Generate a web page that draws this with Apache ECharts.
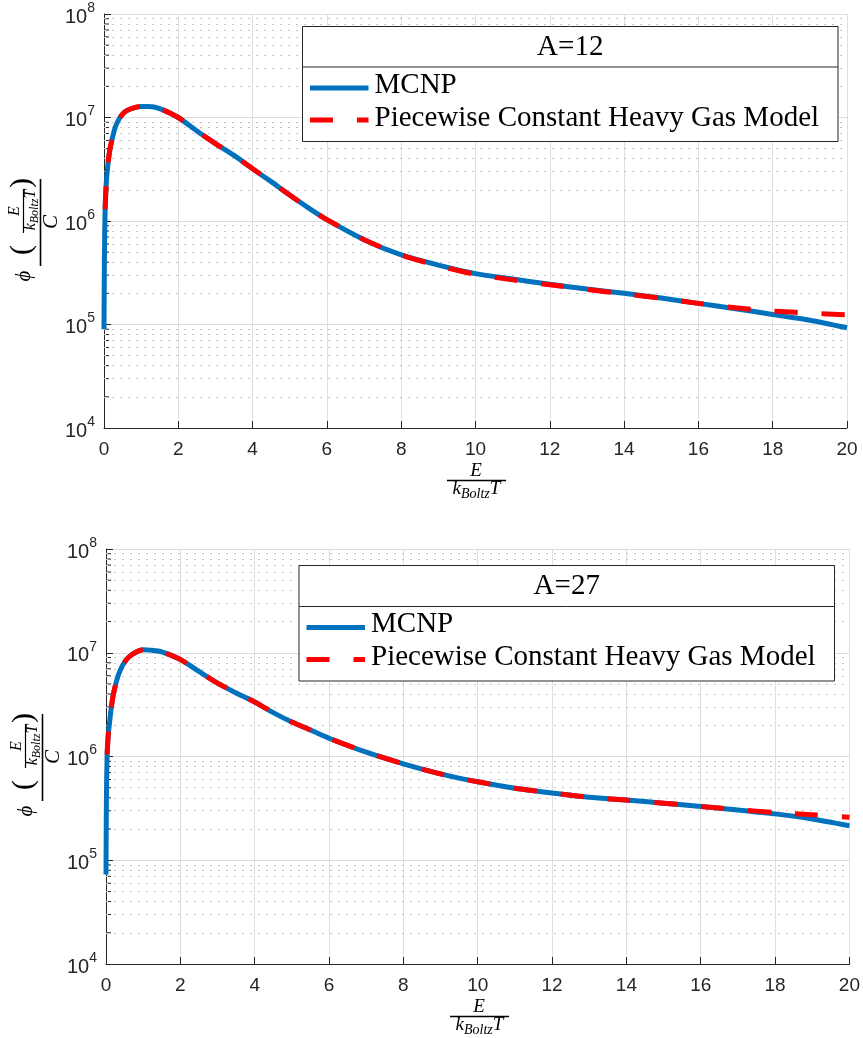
<!DOCTYPE html>
<html><head><meta charset="utf-8">
<script src="https://cdn.jsdelivr.net/npm/echarts@6/dist/echarts.min.js"></script>
<style>html,body{margin:0;padding:0;background:#fff}#c{width:863px;height:1038px}</style>
</head><body><div id="c"></div>
<script>
// ---- data ----
const energy = [0, 0.01, 0.03, 0.06, 0.1, 0.15, 0.2, 0.3, 0.4, 0.5, 0.6, 0.8, 1.0, 1.2, 1.5, 2, 2.5, 3, 3.5, 4, 4.5, 5, 5.5, 6, 7, 8, 9, 10, 11, 12, 13, 14, 15, 16, 17, 18, 19, 20];
const mcnp12 = [9e4, 4e5, 1.3e6, 2.3e6, 3.4e6, 4.7e6, 5.8e6, 8.0e6, 9.6e6, 1.08e7, 1.16e7, 1.24e7, 1.28e7, 1.28e7, 1.22e7, 1.0e7, 7.4e6, 5.6e6, 4.3e6, 3.2e6, 2.4e6, 1.78e6, 1.34e6, 1.03e6, 6.6e5, 4.7e5, 3.75e5, 3.1e5, 2.75e5, 2.45e5, 2.2e5, 2.0e5, 1.8e5, 1.6e5, 1.42e5, 1.25e5, 1.1e5, 9.3e4];
const model12 = [null, null, 1.3e6, 2.3e6, 3.4e6, 4.7e6, 5.8e6, 8.0e6, 9.6e6, 1.08e7, 1.16e7, 1.24e7, 1.28e7, 1.28e7, 1.22e7, 1.0e7, 7.4e6, 5.6e6, 4.3e6, 3.2e6, 2.4e6, 1.78e6, 1.34e6, 1.03e6, 6.6e5, 4.7e5, 3.7e5, 3.05e5, 2.7e5, 2.42e5, 2.18e5, 1.98e5, 1.8e5, 1.6e5, 1.45e5, 1.35e5, 1.29e5, 1.24e5];
const mcnp27 = [7.3e4, 3.5e5, 1.05e6, 1.6e6, 2.2e6, 3.1e6, 4.0e6, 5.6e6, 7.0e6, 8.1e6, 9.0e6, 1.01e7, 1.07e7, 1.06e7, 1.02e7, 8.6e6, 6.6e6, 5.1e6, 4.1e6, 3.35e6, 2.65e6, 2.15e6, 1.8e6, 1.5e6, 1.1e6, 8.5e5, 6.8e5, 5.7e5, 4.95e5, 4.45e5, 4.05e5, 3.8e5, 3.55e5, 3.3e5, 3.05e5, 2.8e5, 2.5e5, 2.15e5];
const model27 = [null, null, 1.05e6, 1.6e6, 2.2e6, 3.1e6, 4.0e6, 5.6e6, 7.0e6, 8.1e6, 9.0e6, 1.01e7, 1.07e7, 1.06e7, 1.02e7, 8.6e6, 6.6e6, 5.1e6, 4.1e6, 3.35e6, 2.65e6, 2.15e6, 1.8e6, 1.5e6, 1.1e6, 8.5e5, 6.8e5, 5.7e5, 4.95e5, 4.45e5, 4.05e5, 3.8e5, 3.55e5, 3.3e5, 3.08e5, 2.88e5, 2.75e5, 2.6e5];
const xTicks = [0, 2, 4, 6, 8, 10, 12, 14, 16, 18, 20];
const yMin = 1e4, yMax = 1e8;
const minorVals = [2e4,3e4,4e4,5e4,6e4,7e4,8e4,9e4, 2e5,3e5,4e5,5e5,6e5,7e5,8e5,9e5, 2e6,3e6,4e6,5e6,6e6,7e6,8e6,9e6, 2e7,3e7,4e7,5e7,6e7,7e7,8e7,9e7];
const legendTitles = ['A=12', 'A=27'];
const seriesNames = ['MCNP', 'Piecewise Constant Heavy Gas Model'];

const BLUE = '#0072BD', RED = '#FF0000', AX = '#262626';
const SERIF = '"Liberation Serif", "DejaVu Serif", serif';
const SANS = '"Liberation Sans", Arial, sans-serif';

const grids = [
  {left: 104, right: 16, top: 14, height: 414},
  {left: 106, right: 13, top: 549, height: 415}
];
const panels = [
  {mcnp: mcnp12, model: model12, title: legendTitles[0], box: {x: 302.5, y: 26.5, w: 535.5, h: 115, div: 67}, dx: 0, dy: 0, xl: {x: 476, y: 0}},
  {mcnp: mcnp27, model: model27, title: legendTitles[1], box: {x: 299, y: 565.5, w: 535.5, h: 115.5, div: 606.5}, dx: 2, dy: 535, xl: {x: 479, y: 536}}
];
const zip = (xs, ys) => xs.map((x, i) => [x, ys[i]]);

const xAxes = [], yAxes = [], series = [], graphic = [];
panels.forEach((p, i) => {
  xAxes.push({
    type: 'value', gridIndex: i, min: 0, max: 20, interval: 2,
    axisLine: {lineStyle: {color: AX, width: 1}},
    axisTick: {inside: true, length: 7, lineStyle: {color: AX}},
    axisLabel: {color: AX, fontFamily: SANS, fontSize: 19, margin: 12, formatter: v => xTicks.includes(v) ? String(v) : ''},
    splitLine: {show: true, lineStyle: {color: '#dedede', width: 1}}
  });
  yAxes.push({
    type: 'log', gridIndex: i, min: yMin, max: yMax, logBase: 10,
    axisLine: {show: true, lineStyle: {color: AX, width: 1}},
    axisTick: {inside: true, length: 7, lineStyle: {color: AX}},
    axisLabel: {
      color: AX, margin: 9,
      formatter: v => '{b|10}{s|' + Math.round(Math.log10(v)) + '}',
      rich: {
        b: {fontFamily: SANS, fontSize: 20, color: AX, lineHeight: 26, verticalAlign: 'bottom'},
        s: {fontFamily: SANS, fontSize: 14, color: AX, lineHeight: 15, verticalAlign: 'top'}
      }
    },
    splitLine: {show: true, lineStyle: {color: '#dedede', width: 1}}
  });
  // minor dotted grid lines
  series.push({
    type: 'line', xAxisIndex: i, yAxisIndex: i, data: [], silent: true, z: 1,
    markLine: {
      silent: true, symbol: 'none', animation: false, label: {show: false},
      lineStyle: {color: '#c4c4c4', type: [2, 6], width: 1},
      data: minorVals.map(v => ({yAxis: v}))
    }
  });
  // minor ticks on y axis
  series.push({
    type: 'custom', xAxisIndex: i, yAxisIndex: i, silent: true, clip: false, z: 3,
    data: minorVals.map(v => [0, v]),
    renderItem: (params, api) => {
      const c = api.coord([api.value(0), api.value(1)]);
      return {type: 'line', shape: {x1: c[0], y1: c[1], x2: c[0] + 5, y2: c[1]}, style: {stroke: AX, lineWidth: 1}};
    }
  });
  series.push({
    name: seriesNames[0], type: 'line', xAxisIndex: i, yAxisIndex: i, z: 5,
    data: zip(energy, p.mcnp), showSymbol: false, smooth: 0.25,
    lineStyle: {color: BLUE, width: 5}, animation: false
  });
  series.push({
    name: seriesNames[1], type: 'line', xAxisIndex: i, yAxisIndex: i, z: 6,
    data: zip(energy, p.model), showSymbol: false, smooth: 0.25, connectNulls: false,
    lineStyle: {color: RED, width: 5, type: [23, 24], cap: 'butt'}, animation: false
  });

  // legend box
  const b = p.box;
  const LF = '29px ' + SERIF;
  graphic.push({type: 'rect', z: 100, shape: {x: b.x, y: b.y, width: b.w, height: b.h}, style: {fill: '#fff', stroke: AX, lineWidth: 1}});
  graphic.push({type: 'line', z: 101, shape: {x1: b.x, y1: b.div, x2: b.x + b.w, y2: b.div}, style: {stroke: AX, lineWidth: 1}});
  graphic.push({type: 'text', z: 101, x: b.x + b.w / 2, y: (b.y + b.div) / 2 + 0.5, style: {text: p.title, font: LF, fill: '#000', align: 'center', verticalAlign: 'middle'}});
  const row1 = b.div + 18, row2 = b.div + 51;
  graphic.push({type: 'line', z: 101, shape: {x1: b.x + 7.5, y1: row1 + 3, x2: b.x + 66, y2: row1 + 3}, style: {stroke: BLUE, lineWidth: 5}});
  graphic.push({type: 'line', z: 101, shape: {x1: b.x + 7.5, y1: row2 + 2, x2: b.x + 66, y2: row2 + 2}, style: {stroke: RED, lineWidth: 5, lineDash: [23, 24]}});
  graphic.push({type: 'text', z: 101, x: b.x + 72, y: row1, style: {text: seriesNames[0], font: LF, fill: '#000', align: 'left', verticalAlign: 'middle'}});
  graphic.push({type: 'text', z: 101, x: b.x + 72, y: row2, style: {text: seriesNames[1], font: LF, fill: '#000', align: 'left', verticalAlign: 'middle'}});

  // y-axis label (rotated fraction)
  const dx = p.dx, dy = p.dy, R = Math.PI / 2;
  const it = s => 'italic ' + s + 'px ' + SERIF;
  graphic.push({type: 'text', x: 24 + dx, y: 276 + dy, rotation: R, style: {text: 'ϕ', font: it(21), fill: '#000', align: 'center', verticalAlign: 'middle'}});
  graphic.push({type: 'text', x: 22 + dx, y: 250 + dy, rotation: R, style: {text: '(', font: '30px ' + SERIF, fill: '#000', align: 'center', verticalAlign: 'middle'}});
  graphic.push({type: 'text', x: 22 + dx, y: 183 + dy, rotation: R, style: {text: ')', font: '30px ' + SERIF, fill: '#000', align: 'center', verticalAlign: 'middle'}});
  graphic.push({type: 'text', x: 15 + dx, y: 211 + dy, rotation: R, style: {text: 'E', font: it(16), fill: '#000', align: 'center', verticalAlign: 'middle'}});
  graphic.push({type: 'line', shape: {x1: 23.5 + dx, y1: 189 + dy, x2: 23.5 + dx, y2: 233 + dy}, style: {stroke: '#000', lineWidth: 1.2}});
  graphic.push({type: 'text', x: 32 + dx, y: 210 + dy, rotation: R, style: {
    text: '{k|k}{s|Boltz}{k|T}', align: 'center', verticalAlign: 'middle',
    rich: {k: {font: it(16), fill: '#000', lineHeight: 18, verticalAlign: 'top'}, s: {font: it(12), fill: '#000', lineHeight: 18, verticalAlign: 'bottom'}}
  }});
  graphic.push({type: 'line', shape: {x1: 40.5 + dx, y1: 179 + dy, x2: 40.5 + dx, y2: 266 + dy}, style: {stroke: '#000', lineWidth: 1.6}});
  graphic.push({type: 'text', x: 51 + dx, y: 222 + dy, rotation: R, style: {text: 'C', font: it(21), fill: '#000', align: 'center', verticalAlign: 'middle'}});

  // x-axis label (fraction)
  const xl = p.xl;
  graphic.push({type: 'text', x: xl.x, y: 471 + xl.y, style: {text: 'E', font: it(19), fill: '#000', align: 'center', verticalAlign: 'middle'}});
  graphic.push({type: 'line', shape: {x1: xl.x - 29, y1: 480.5 + xl.y, x2: xl.x + 30, y2: 480.5 + xl.y}, style: {stroke: '#000', lineWidth: 1.6}});
  graphic.push({type: 'text', x: xl.x + 0.5, y: 490 + xl.y, style: {
    text: '{k|k}{s|Boltz}{k|T}', align: 'center', verticalAlign: 'middle',
    rich: {k: {font: it(19), fill: '#000', lineHeight: 22, verticalAlign: 'top'}, s: {font: it(14), fill: '#000', lineHeight: 22, verticalAlign: 'bottom'}}
  }});
});

const chart = echarts.init(document.getElementById('c'), null, {renderer: 'canvas'});
chart.setOption({
  animation: false,
  backgroundColor: '#fff',
  grid: grids,
  xAxis: xAxes,
  yAxis: yAxes,
  series: series,
  graphic: graphic
});
</script>
</body></html>
